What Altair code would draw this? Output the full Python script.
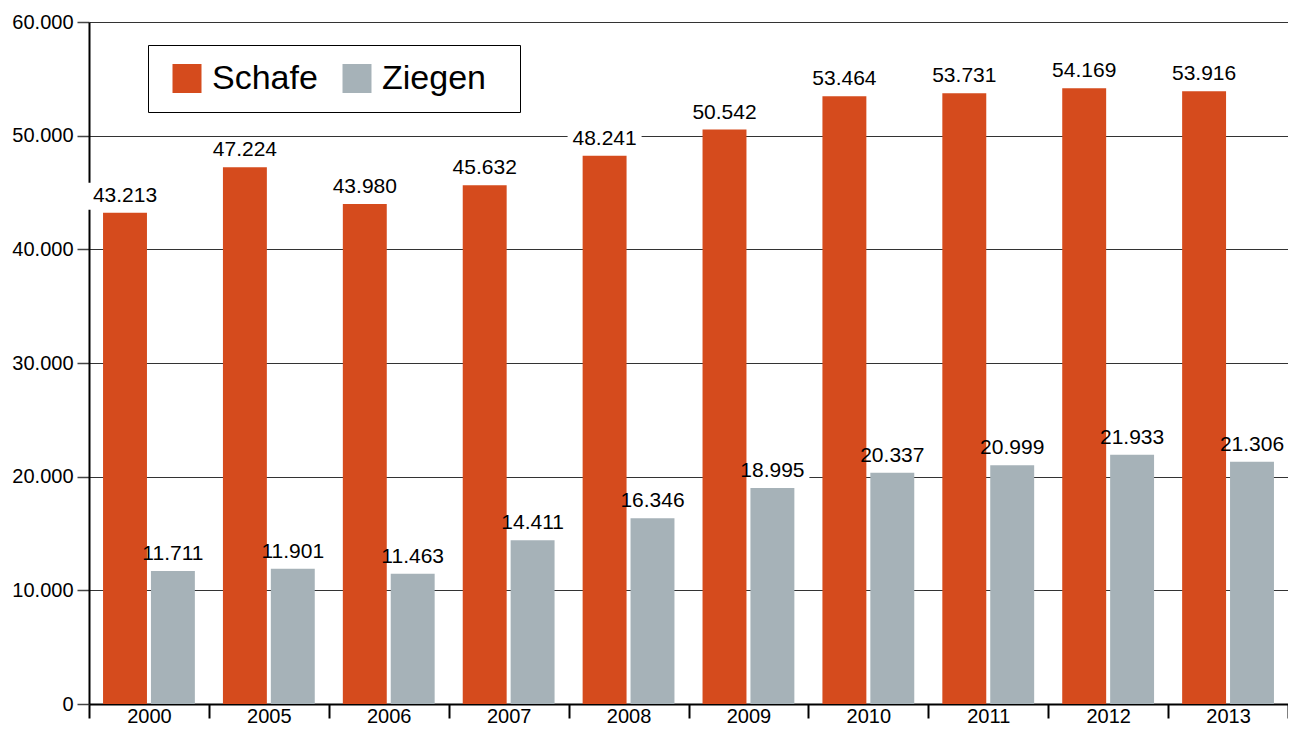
import altair as alt
import pandas as pd

years = ["2000", "2005", "2006", "2007", "2008", "2009", "2010", "2011", "2012", "2013"]
schafe = [43213, 47224, 43980, 45632, 48241, 50542, 53464, 53731, 54169, 53916]
ziegen = [11711, 11901, 11463, 14411, 16346, 18995, 20337, 20999, 21933, 21306]
series = ["Schafe", "Ziegen"]
colors = ["#D54B1D", "#A6B2B8"]

rows = []
for y, s, z in zip(years, schafe, ziegen):
    rows.append({"year": y, "series": "Schafe", "value": s})
    rows.append({"year": y, "series": "Ziegen", "value": z})
df = pd.DataFrame(rows)

FONT = "Liberation Sans"

base = alt.Chart(df).transform_calculate(
    label="replace(format(datum.value, ','), ',', '.')"
).encode(
    x=alt.X("year:N", sort=years, title=None,
            scale=alt.Scale(paddingInner=0, paddingOuter=0),
            axis=alt.Axis(tickBand="extent", tickSize=14, tickWidth=2, tickColor="black",
                          domainColor="black", domainWidth=2, labelAngle=0,
                          labelFontSize=20, labelFont=FONT, labelColor="black",
                          labelPadding=-12, grid=False)),
    xOffset=alt.XOffset("series:N", sort=series,
                        scale=alt.Scale(paddingInner=0.083, paddingOuter=0.293)),
)

yenc = alt.Y("value:Q", title=None,
             scale=alt.Scale(domain=[0, 60000], nice=False),
             axis=alt.Axis(values=[0, 10000, 20000, 30000, 40000, 50000, 60000],
                           labelExpr="replace(format(datum.value, ','), ',', '.')",
                           tickSize=12, tickWidth=1.5, tickColor="#444",
                           domainColor="black", domainWidth=2,
                           gridColor="#333", gridWidth=1, grid=True,
                           labelFontSize=20, labelFont=FONT, labelColor="black",
                           labelPadding=4))

boxes = base.mark_bar(color="white", width=74, yOffset=-3, y2Offset=-30).encode(
    y=yenc, y2=alt.Y2("value:Q"))

bars = base.mark_bar().encode(
    y=yenc,
    color=alt.Color("series:N", sort=series,
                    scale=alt.Scale(domain=series, range=colors),
                    legend=alt.Legend(title=None, orient="none", legendX=59, legendY=23,
                                      direction="horizontal", symbolType="square",
                                      symbolSize=841, symbolStrokeWidth=0,
                                      symbolOffset=5.5,
                                      labelFontSize=34, labelFont=FONT, labelColor="black",
                                      labelOffset=8, columnPadding=16,
                                      padding=16.5)),
)

# legend frame (decoration)
frame = alt.Chart(pd.DataFrame({"k": [0]})).mark_rect(
    fill="white", stroke="black", strokeWidth=1
).encode(x=alt.value(59.5), x2=alt.value(431.5), y=alt.value(23.5), y2=alt.value(90.5))

text = base.mark_text(baseline="alphabetic", dy=-11, fontSize=21, font=FONT,
                      color="black").encode(y=yenc, text="label:N")

chart = alt.layer(boxes, bars, frame, text).properties(
    width=1199, height=682,
    autosize=alt.AutoSizeParams(type="none"),
    padding={"left": 81, "top": 14, "right": 0, "bottom": 24},
).configure_view(stroke=None)

chart.save("out.html", embed_options={"renderer": "svg", "actions": False})
